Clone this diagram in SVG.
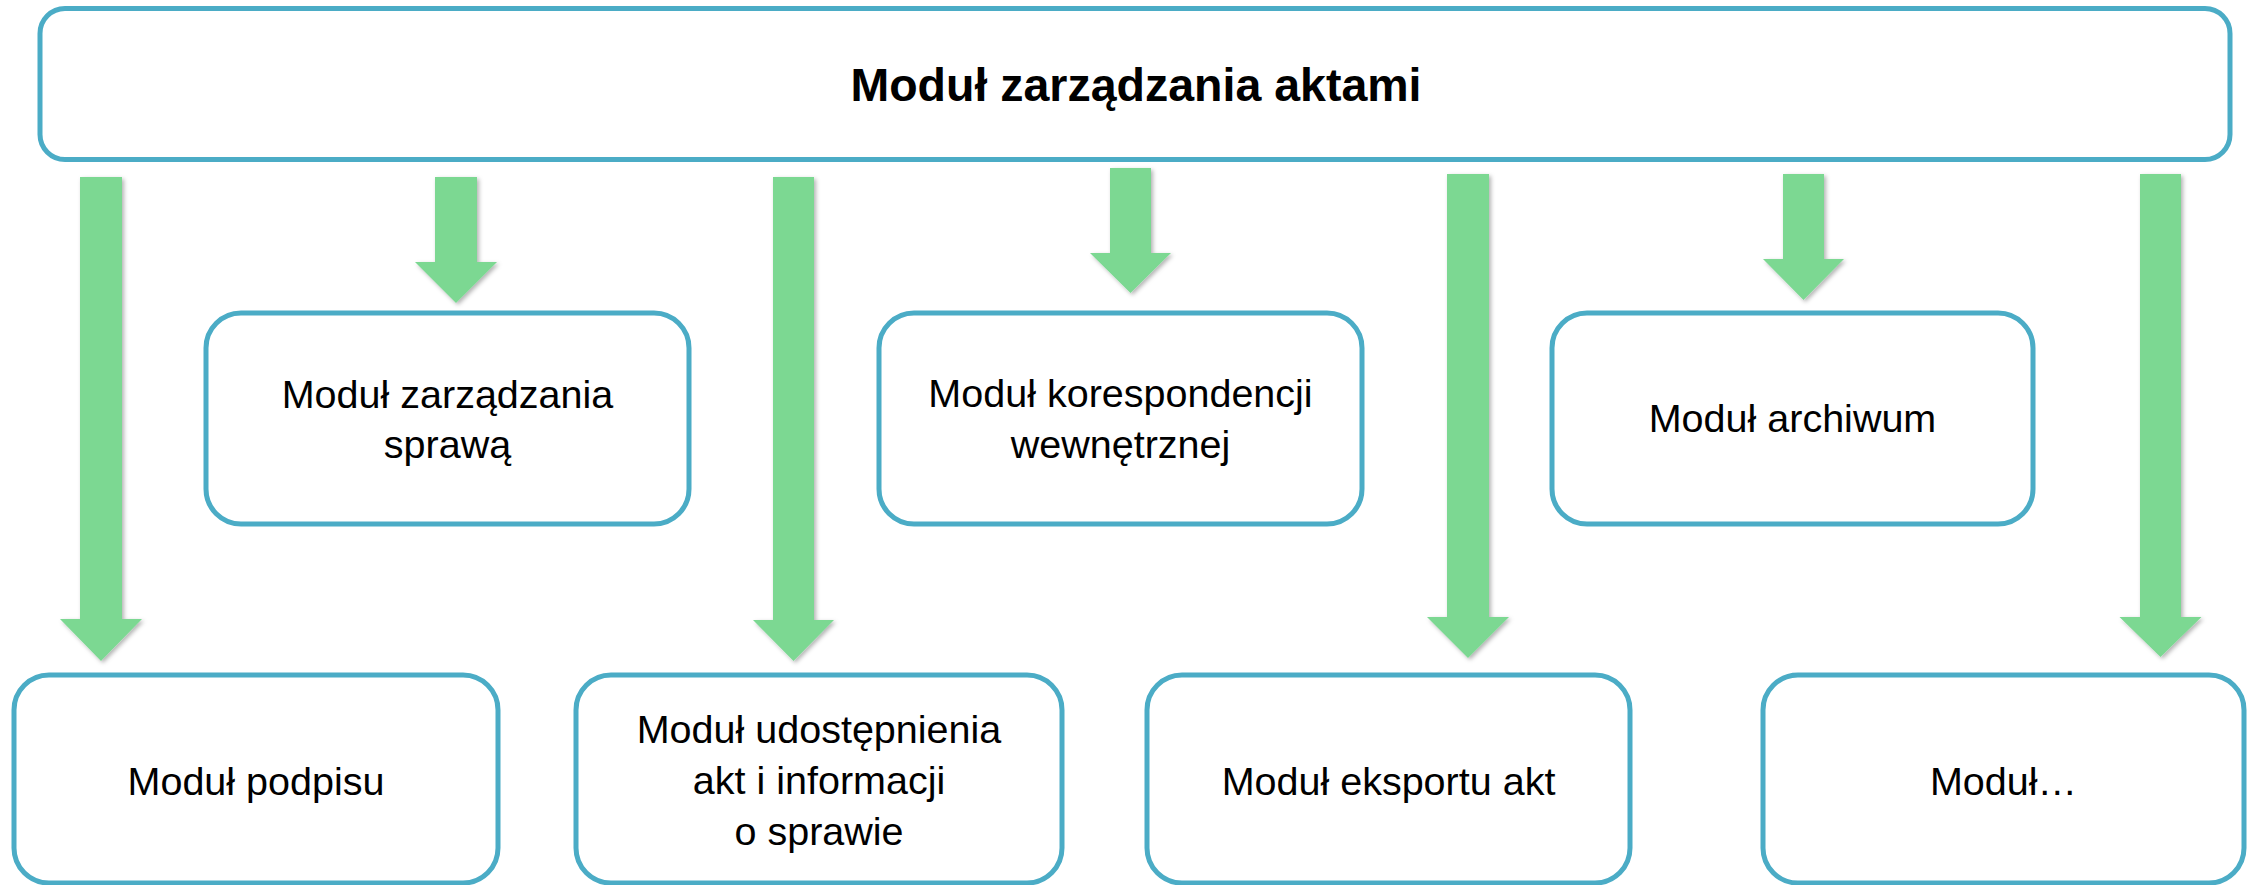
<svg xmlns="http://www.w3.org/2000/svg" width="2252" height="885" viewBox="0 0 2252 885">
  <defs>
    <filter id="shadow" x="-30%" y="-10%" width="160%" height="120%">
      <feDropShadow dx="2" dy="2" stdDeviation="2" flood-color="#000000" flood-opacity="0.3"/>
    </filter>
    <style>
      .box { fill: #FFFFFF; stroke: #4BACC6; stroke-width: 5; }
      .arrow { fill: #7BD892; stroke: none; filter: url(#shadow); }
      .label { font-family: "Liberation Sans", Arial, sans-serif; font-size: 39.5px; fill: #000000; text-anchor: middle; }
      .title { font-family: "Liberation Sans", Arial, sans-serif; font-size: 46.5px; font-weight: bold; fill: #000000; text-anchor: middle; }
    </style>
  </defs>
  <rect width="2252" height="885" fill="#FFFFFF"/>

  <g id="connectors">
    <path class="arrow" d="M80,177 H122 V619 H142 L101,661 L60,619 H80 Z"/>
    <path class="arrow" d="M435,177 H477 V262 H497 L456,303 L415,262 H435 Z"/>
    <path class="arrow" d="M773,177 H814 V620 H834 L793.5,661 L753,620 H773 Z"/>
    <path class="arrow" d="M1110,168 H1151 V253 H1171 L1130.5,293 L1090,253 H1110 Z"/>
    <path class="arrow" d="M1447,174 H1489 V617 H1509 L1468,658 L1427,617 H1447 Z"/>
    <path class="arrow" d="M1783,174 H1824 V259 H1844 L1803.5,300 L1763,259 H1783 Z"/>
    <path class="arrow" d="M2140,174 H2181 V617 H2201.5 L2160.5,657 L2119.5,617 H2140 Z"/>
  </g>

  <g id="node-main">
    <rect class="box" x="40" y="8.5" width="2190" height="151" rx="25" ry="25"/>
    <text class="title" x="1136" y="101">Moduł zarządzania aktami</text>
  </g>

  <g id="node-sprawa">
    <rect class="box" x="206" y="313" width="483" height="211" rx="35" ry="35"/>
    <text class="label" x="447.5" y="408">Moduł zarządzania</text>
    <text class="label" x="447.5" y="458">sprawą</text>
  </g>

  <g id="node-korespondencja">
    <rect class="box" x="879" y="313" width="483" height="211" rx="35" ry="35"/>
    <text class="label" x="1120.5" y="407">Moduł korespondencji</text>
    <text class="label" x="1120.5" y="458">wewnętrznej</text>
  </g>

  <g id="node-archiwum">
    <rect class="box" x="1552" y="313" width="481" height="211" rx="35" ry="35"/>
    <text class="label" x="1792.5" y="432">Moduł archiwum</text>
  </g>

  <g id="node-podpis">
    <rect class="box" x="14" y="675" width="484" height="208" rx="35" ry="35"/>
    <text class="label" x="256" y="795">Moduł podpisu</text>
  </g>

  <g id="node-udostepnienie">
    <rect class="box" x="576" y="675" width="486" height="208" rx="35" ry="35"/>
    <text class="label" x="819" y="743">Moduł udostępnienia</text>
    <text class="label" x="819" y="794">akt i informacji</text>
    <text class="label" x="819" y="845">o sprawie</text>
  </g>

  <g id="node-eksport">
    <rect class="box" x="1147" y="675" width="483" height="208" rx="35" ry="35"/>
    <text class="label" x="1388.5" y="795">Moduł eksportu akt</text>
  </g>

  <g id="node-inne">
    <rect class="box" x="1763" y="675" width="481" height="208" rx="35" ry="35"/>
    <text class="label" x="2003.5" y="795">Moduł…</text>
  </g>
</svg>
